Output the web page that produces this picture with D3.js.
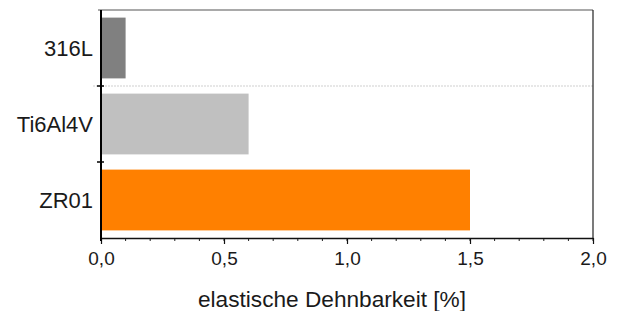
<!DOCTYPE html>
<html><head><meta charset="utf-8">
<script src="https://cdn.jsdelivr.net/npm/d3@7"></script>
<style>body{margin:0;background:#fff}svg{display:block;font-family:"Liberation Sans",Arial,sans-serif}</style>
</head><body>
<svg id="c" width="626" height="311"></svg>
<script>
const categories = ["316L", "Ti6Al4V", "ZR01"];
const values = [0.1, 0.6, 1.5];
const colors = ["#808080", "#c0c0c0", "#ff8000"];
const xTicks = [0, 0.5, 1.0, 1.5, 2.0];
const xTitle = "elastische Dehnbarkeit [%]";

const svg = d3.select("#c");
const m = {l: 101, r: 593, t: 10, b: 238};
const x = d3.scaleLinear().domain([0, 2]).range([m.l, m.r]);
const y = d3.scaleBand().domain(categories).range([m.t, m.b]).paddingInner(0.2).paddingOuter(0.1);

// dotted grid line between first two categories
const bounds = categories.slice(1).map(c => y(c) - y.step() * y.paddingInner() / 2);
svg.append("line").attr("x1", 93).attr("x2", m.r).attr("y1", bounds[0]).attr("y2", bounds[0])
  .attr("stroke", "#cfcfcf").attr("stroke-width", 1).attr("stroke-dasharray", "2,1");

// bars
svg.selectAll("rect.bar").data(categories).join("rect").attr("class", "bar")
  .attr("x", x(0)).attr("y", d => y(d))
  .attr("width", (d, i) => x(values[i]) - x(0)).attr("height", y.bandwidth())
  .attr("fill", (d, i) => colors[i]);

// frame: top and right
svg.append("line").attr("x1", 98).attr("x2", m.r).attr("y1", m.t).attr("y2", m.t).attr("stroke", "#555").attr("stroke-width", 1.2);
svg.append("line").attr("x1", m.r).attr("x2", m.r).attr("y1", m.t).attr("y2", m.b).attr("stroke", "#222").attr("stroke-width", 1.2);

// x axis minor ticks
const minor = d3.range(0, 2.0001, 0.1);
svg.selectAll("line.minor").data(minor).join("line").attr("class", "minor")
  .attr("x1", d => x(d)).attr("x2", d => x(d)).attr("y1", m.b).attr("y2", m.b + 3)
  .attr("stroke", "#222").attr("stroke-width", 1);
// x axis
const xAxis = d3.axisBottom(x).tickValues(xTicks).tickSize(6).tickSizeOuter(0)
  .tickFormat(d => d3.format(".1f")(d).replace(".", ","));
const gx = svg.append("g").attr("transform", `translate(0,${m.b})`).call(xAxis);
gx.select(".domain").attr("stroke", "#111").attr("stroke-width", 1.6);
gx.selectAll(".tick line").attr("stroke", "#111").attr("stroke-width", 1.2);
gx.selectAll(".tick text").attr("font-size", 19).attr("fill", "#1a1a1a").attr("dy", null).attr("y", 27);

// y axis
svg.append("line").attr("x1", m.l).attr("x2", m.l).attr("y1", m.t).attr("y2", m.b + 3).attr("stroke", "#000").attr("stroke-width", 2);
svg.selectAll("line.ytick").data(bounds).join("line").attr("class", "ytick")
  .attr("x1", m.l - 4).attr("x2", m.l + 3).attr("y1", d => d).attr("y2", d => d)
  .attr("stroke", "#000").attr("stroke-width", 1.5);

svg.selectAll("text.cat").data(categories).join("text").attr("class", "cat")
  .attr("x", 93).attr("y", d => y(d) + y.bandwidth() / 2 + 8)
  .attr("text-anchor", "end").attr("font-size", 22).attr("fill", "#1a1a1a")
  .text(d => d);

svg.append("text").attr("x", 332).attr("y", 307).attr("text-anchor", "middle")
  .attr("font-size", 22).attr("fill", "#1a1a1a")
  .attr("textLength", 268).attr("lengthAdjust", "spacingAndGlyphs").text(xTitle);
</script>
</body></html>
